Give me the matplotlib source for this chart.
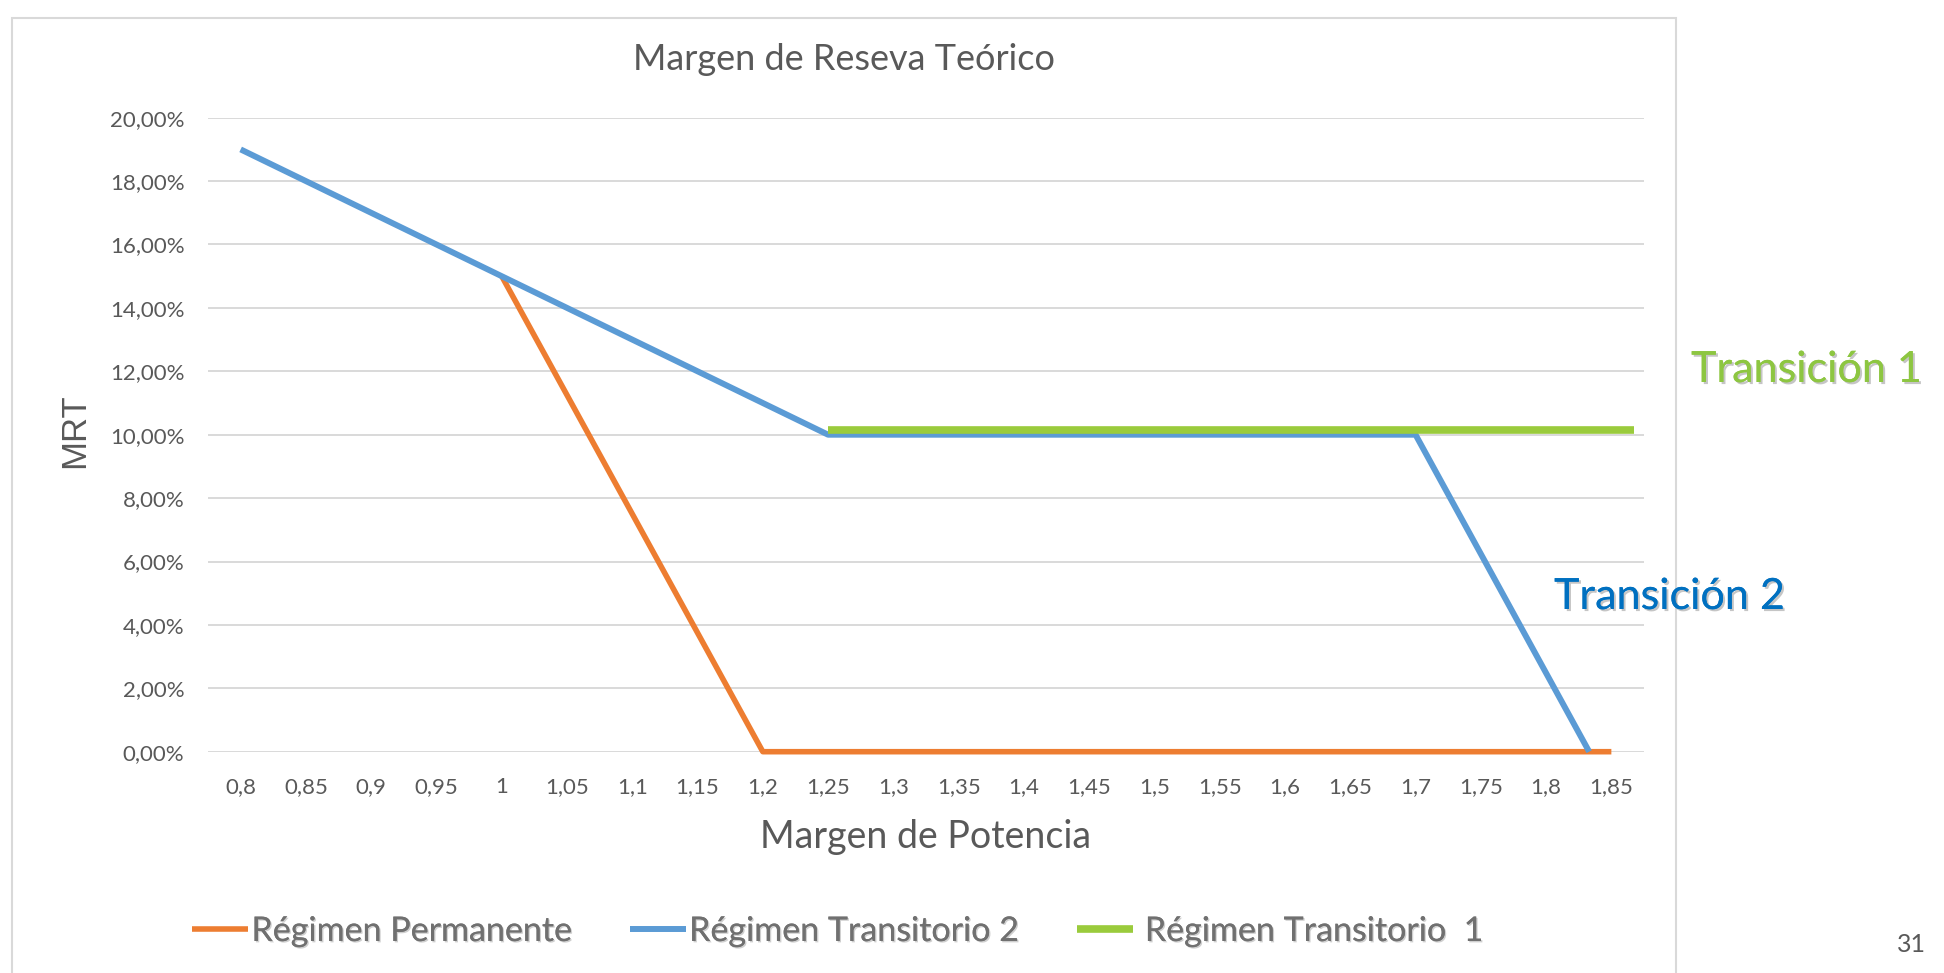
import matplotlib
matplotlib.use("Agg")
import matplotlib.pyplot as plt
from matplotlib.patches import Rectangle
import matplotlib.patheffects as pe

# ---- data ----
x_categories = [0.8, 0.85, 0.9, 0.95, 1.0, 1.05, 1.1, 1.15, 1.2, 1.25, 1.3, 1.35,
                1.4, 1.45, 1.5, 1.55, 1.6, 1.65, 1.7, 1.75, 1.8, 1.85]
x_labels = ["0,8", "0,85", "0,9", "0,95", "1", "1,05", "1,1", "1,15", "1,2", "1,25",
            "1,3", "1,35", "1,4", "1,45", "1,5", "1,55", "1,6", "1,65", "1,7", "1,75",
            "1,8", "1,85"]
y_ticks = [0, 2, 4, 6, 8, 10, 12, 14, 16, 18, 20]

perm_x = [1.0, 1.2, 1.85]
perm_y = [15.0, 0.0, 0.0]

trans2_x = [0.8, 1.0, 1.25, 1.7, 1.833]
trans2_y = [19.0, 15.0, 10.0, 10.0, 0.0]

trans1_x = [1.25, 1.867]
trans1_y = [10.15, 10.15]

series_names = ["Régimen Permanente", "Régimen Transitorio 2", " Régimen Transitorio  1"]

# ---- figure ----
W, H = 1944, 973
plt.rcParams['font.family'] = ['Lato', 'DejaVu Sans']
fig = plt.figure(figsize=(W / 100, H / 100), dpi=100)
fig.patch.set_facecolor('white')

ax_l, ax_r = 208 / W, 1644 / W
ax_b, ax_t = 1 - 751.7 / H, 1 - 117.7 / H
ax = fig.add_axes([ax_l, ax_b, ax_r - ax_l, ax_t - ax_b])

grey_txt = '#595959'
grid_c = '#D9D9D9'

for yv in y_ticks:
    ax.axhline(yv, color=grid_c, lw=1.4, zorder=1)

l1, = ax.plot(perm_x, perm_y, color='#ED7D31', lw=4.0, solid_joinstyle='round',
              solid_capstyle='butt', zorder=3, clip_on=False, label=series_names[0])
l2, = ax.plot(trans2_x, trans2_y, color='#5B9BD5', lw=4.3, solid_joinstyle='round',
              solid_capstyle='butt', zorder=4, clip_on=False, label=series_names[1])
l3, = ax.plot(trans1_x, trans1_y, color='#9ACB3C', lw=5.5, solid_capstyle='butt',
              zorder=5, clip_on=False, label=series_names[2])

ax.set_xlim(0.775, 1.875)
ax.set_ylim(0, 20)
ax.set_xticks(x_categories)
ax.set_xticklabels(x_labels)
ax.set_yticks(y_ticks)
ax.set_yticklabels([f"{v:.2f}".replace('.', ',') + '%' for v in y_ticks])
ax.tick_params(axis='both', length=0, labelsize=16, labelcolor=grey_txt)
ax.tick_params(axis='x', pad=18)
ax.tick_params(axis='y', pad=17)
for s in ax.spines.values():
    s.set_visible(False)
ax.set_facecolor('none')

ax.set_xlabel("Margen de Potencia", fontsize=27, color=grey_txt, va='center')
ax.xaxis.set_label_coords(0.5, (751.7 - 837) / 634)
ax.set_ylabel("MRT", fontsize=25, color=grey_txt, va='center',
              family=['Liberation Sans', 'DejaVu Sans'])
ax.yaxis.set_label_coords((74.5 - 208) / 1436, (751.7 - 431) / 634)

fig.text(844 / W, 1 - 60 / H, "Margen de Reseva Teórico", fontsize=26,
         color=grey_txt, ha='center', va='center')

shadow = [pe.withSimplePatchShadow(offset=(1.5, -1.5), shadow_rgbFace='#808080', alpha=0.45),
          pe.Normal()]

fig.text(1806 / W, 1 - 370 / H, "Transición 1", fontsize=31, color='#8DC641',
         ha='center', va='center', path_effects=shadow)
fig.text(1669 / W, 1 - 597 / H, "Transición 2", fontsize=31, color='#0070C0',
         ha='center', va='center', path_effects=shadow)

leg = fig.legend(handles=[l1, l2, l3], loc='center', ncol=3,
                 bbox_to_anchor=(837.5 / W, 1 - 931 / H), frameon=False,
                 fontsize=24.5, handlelength=1.65, handletextpad=0.1,
                 columnspacing=1.7, labelcolor='#707070')
for t in leg.get_texts():
    t.set_path_effects([pe.withSimplePatchShadow(offset=(1, -1), shadow_rgbFace='#A0A0A0', alpha=0.5),
                        pe.Normal()])

# chart frame
fig.add_artist(Rectangle((12 / W, -0.1), (1676 - 12) / W, 1 - 17.5 / H + 0.1,
                         transform=fig.transFigure, fill=False, edgecolor='#D9D9D9',
                         lw=1.5, clip_on=False))

fig.text(1911 / W, 1 - 945 / H, "31", fontsize=18, color=grey_txt, ha='center', va='center')

fig.savefig("out.png", dpi=100)
